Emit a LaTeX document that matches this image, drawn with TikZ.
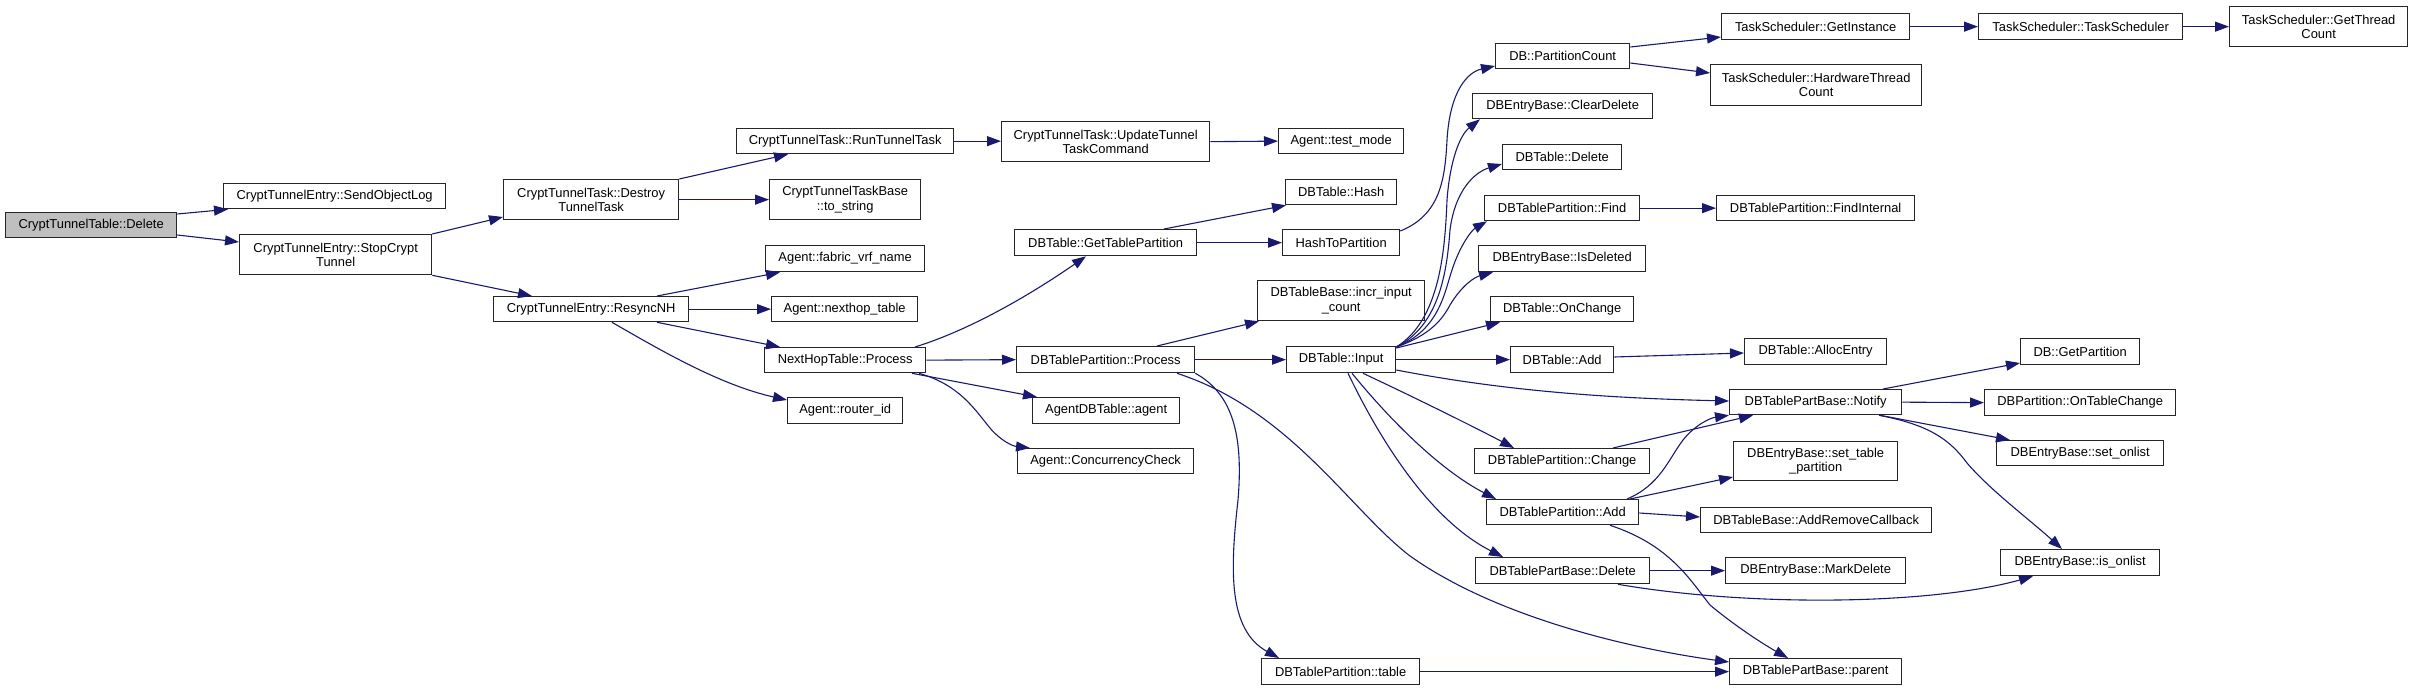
\documentclass[tikz,border=0pt]{standalone}
\usepackage{fontspec}
\setmainfont{Liberation Sans}
\usetikzlibrary{arrows.meta}
\definecolor{edgeblue}{HTML}{191970}
\definecolor{rootgrey}{HTML}{BFBFBF}
\tikzset{
  box/.style={draw=black!85, line width=1.3pt, fill=white, inner sep=0pt, anchor=north west, align=center,
    font=\fontsize{12.9}{14.3}\selectfont},
  e/.style={draw=edgeblue, line width=1.1pt, -{Triangle[length=14pt,width=10pt]}}
}
\newcommand\nd[7][]{\node[box,#1,minimum width=#5pt-#3pt,minimum height=#6pt-#4pt] (#2) at (#3,#4) {#7};}
\begin{document}
\begin{tikzpicture}[x=1pt,y=-1pt]
\useasboundingbox (0,0) rectangle (2412,690);
\nd[fill=rootgrey]{root}{5}{212}{176}{237}{CryptTunnelTable::Delete}
\nd{sendlog}{223}{183}{445}{208}{CryptTunnelEntry::SendObjectLog}
\nd{stopct}{239}{234}{431}{274}{CryptTunnelEntry::StopCrypt\\Tunnel}
\nd{destroy}{503}{179}{678}{219}{CryptTunnelTask::Destroy\\TunnelTask}
\nd{resync}{493}{296}{688}{321}{CryptTunnelEntry::ResyncNH}
\nd{runtask}{736}{128}{953}{153}{CryptTunnelTask::RunTunnelTask}
\nd{tostring}{769}{179}{920}{219}{CryptTunnelTaskBase\\::to\_string}
\nd{fabric}{765}{245}{924}{271}{Agent::fabric\_vrf\_name}
\nd{nhtable}{771}{296}{917}{321}{Agent::nexthop\_table}
\nd{nhproc}{764}{347}{925}{372}{NextHopTable::Process}
\nd{routerid}{787}{397}{902}{423}{Agent::router\_id}
\nd{update}{1001}{121}{1209}{161}{CryptTunnelTask::UpdateTunnel\\TaskCommand}
\nd{testmode}{1278}{128}{1403}{153}{Agent::test\_mode}
\nd{gettp}{1014}{229}{1196}{255}{DBTable::GetTablePartition}
\nd{dbproc}{1016}{346}{1194}{372}{DBTablePartition::Process}
\nd{agent}{1032}{397}{1179}{423}{AgentDBTable::agent}
\nd{concur}{1017}{448}{1193}{473}{Agent::ConcurrencyCheck}
\nd{hash}{1285}{179}{1396}{204}{DBTable::Hash}
\nd{htp}{1282}{229}{1399}{255}{HashToPartition}
\nd{incr}{1257}{280}{1424}{320}{DBTableBase::incr\_input\\\_count}
\nd{input}{1286}{346}{1395}{372}{DBTable::Input}
\nd{ptable}{1261}{658}{1419}{684}{DBTablePartition::table}
\nd{pcount}{1495}{43}{1629}{68}{DB::PartitionCount}
\nd{cleardel}{1472}{93}{1652}{118}{DBEntryBase::ClearDelete}
\nd{tdelete}{1502}{144}{1621}{169}{DBTable::Delete}
\nd{find}{1484}{195}{1639}{220}{DBTablePartition::Find}
\nd{isdel}{1478}{245}{1645}{271}{DBEntryBase::IsDeleted}
\nd{onchange}{1490}{296}{1633}{321}{DBTable::OnChange}
\nd{tadd}{1510}{346}{1613}{372}{DBTable::Add}
\nd{change}{1474}{448}{1649}{473}{DBTablePartition::Change}
\nd{padd}{1486}{499}{1638}{524}{DBTablePartition::Add}
\nd{pbdel}{1475}{557}{1649}{583}{DBTablePartBase::Delete}
\nd{getinst}{1721}{13}{1909}{39}{TaskScheduler::GetInstance}
\nd{hwtc}{1710}{64}{1921}{105}{TaskScheduler::HardwareThread\\Count}
\nd{findint}{1716}{195}{1914}{220}{DBTablePartition::FindInternal}
\nd{alloc}{1744}{338}{1886}{364}{DBTable::AllocEntry}
\nd{notify}{1729}{389}{1901}{414}{DBTablePartBase::Notify}
\nd{settp}{1733}{441}{1897}{480}{DBEntryBase::set\_table\\\_partition}
\nd{addrm}{1700}{507}{1931}{532}{DBTableBase::AddRemoveCallback}
\nd{mark}{1725}{557}{1905}{583}{DBEntryBase::MarkDelete}
\nd{parent}{1729}{658}{1901}{684}{DBTablePartBase::parent}
\nd{tsched}{1978}{13}{2182}{39}{TaskScheduler::TaskScheduler}
\nd{gtc}{2229}{6}{2407}{46}{TaskScheduler::GetThread\\Count}
\nd{getpart}{2020}{338}{2139}{364}{DB::GetPartition}
\nd{ontc}{1984}{389}{2175}{415}{DBPartition::OnTableChange}
\nd{setonl}{1996}{440}{2163}{465}{DBEntryBase::set\_onlist}
\nd{isonl}{2000}{549}{2159}{575}{DBEntryBase::is\_onlist}

\draw[e] ([yshift=-2pt]root.north east) -- ([xshift=5pt]sendlog.south west);
\draw[e] ([yshift=-23pt]root.north east) -- ([yshift=-8pt]stopct.north west);
\draw[e] (stopct.north east) -- ([yshift=-38pt]destroy.north west);
\draw[e] (stopct.south east) -- ([xshift=39pt]resync.north west);
\draw[e] (destroy.north east) -- ([xshift=52pt]runtask.south west);
\draw[e] (destroy.east) -- (tostring.west);
\draw[e] (runtask.east) -- (runtask.east -| update.west);
\draw[e] (update.east) -- (testmode.west);
\draw[e] ([xshift=164pt]resync.north west) -- ([xshift=15pt]fabric.south west);
\draw[e] (resync.east) -- (nhtable.west);
\draw[e] ([xshift=164pt]resync.south west) -- ([xshift=16pt]nhproc.north west);
\draw[e] ([xshift=119pt]resync.south west) .. controls (660,350) and (720,385) .. ([yshift=-3pt]routerid.north west);
\draw[e] ([xshift=151pt]nhproc.north west) .. controls (970,330) and (1030,295) .. ([xshift=72pt]gettp.south west);
\draw[e] (nhproc.east) -- (dbproc.west);
\draw[e] ([xshift=148pt]nhproc.south west) -- ([xshift=5pt]agent.north west);
\draw[e] ([xshift=155pt]nhproc.south west) .. controls (960,385) and (975,410) .. (990,428) .. controls (1000,440) and (1012,446) .. ([xshift=13pt]concur.north west);
\draw[e] (dbproc.east) -- (input.west);
\draw[e] ([xshift=141pt]dbproc.north west) -- ([xshift=2pt]incr.south west);
\draw[e] (dbproc.south east) .. controls (1235,395) and (1243,440) .. (1238,500) .. controls (1230,570) and (1228,630) .. ([xshift=18pt]ptable.north west);
\draw[e] ([xshift=161pt]dbproc.south west) .. controls (1290,410) and (1350,510) .. (1410,556) .. controls (1500,620) and (1640,650) .. ([yshift=-4pt]parent.north west);
\draw[e] ([yshift=-1pt]input.north east) .. controls (1440,320) and (1445,250) .. (1447,200) .. controls (1450,160) and (1460,135) .. ([xshift=8pt]cleardel.south west);
\draw[e] ([yshift=-1pt]input.north east) .. controls (1440,325) and (1447,270) .. (1450,230) .. controls (1455,190) and (1475,172) .. ([yshift=-20pt]tdelete.north west);
\draw[e] ([yshift=-1pt]input.north east) .. controls (1440,330) and (1445,290) .. (1452,270) .. controls (1460,245) and (1472,230) .. ([xshift=3pt]find.south west);
\draw[e] ([yshift=-1pt]input.north east) .. controls (1430,335) and (1442,320) .. (1450,305) .. controls (1462,285) and (1475,277) .. ([xshift=15pt]isdel.south west);
\draw[e] ([yshift=-2pt]input.north east) -- ([xshift=10pt]onchange.south west);
\draw[e] (input.east) -- (tadd.west);
\draw[e] ([yshift=-24pt]input.north east) .. controls (1500,390) and (1600,398) .. ([yshift=-12pt]notify.north west);
\draw[e] ([xshift=77pt]input.south west) .. controls (1420,400) and (1480,430) .. ([xshift=40pt]change.north west);
\draw[e] ([xshift=66pt]input.south west) .. controls (1390,420) and (1440,470) .. ([xshift=10pt]padd.north west);
\draw[e] ([xshift=62pt]input.south west) .. controls (1380,440) and (1430,520) .. ([xshift=28pt]pbdel.north west);
\draw[e] ([yshift=-2pt]htp.north east) .. controls (1440,215) and (1445,180) .. (1447,140) .. controls (1450,90) and (1468,72) .. ([yshift=-23pt]pcount.north west);
\draw[e] ([xshift=150pt]gettp.north west) -- ([xshift=1pt]hash.south west);
\draw[e] (gettp.east) -- (htp.west);
\draw[e] ([yshift=-4pt]pcount.north east) -- ([yshift=-24pt]getinst.north west);
\draw[e] ([yshift=-20pt]pcount.north east) -- ([yshift=-9pt]hwtc.north west);
\draw[e] (getinst.east) -- (tsched.west);
\draw[e] (tsched.east) -- (tsched.east -| gtc.west);
\draw[e] (find.east) -- (findint.west);
\draw[e] ([yshift=-11pt]tadd.north east) -- ([yshift=-15pt]alloc.north west);
\draw[e] ([xshift=154pt]notify.north west) -- ([yshift=-25pt]getpart.north west);
\draw[e] (notify.east) -- (ontc.west);
\draw[e] ([xshift=151pt]notify.south west) -- ([xshift=14pt]setonl.north west);
\draw[e] ([xshift=150pt]notify.south west) .. controls (1930,425) and (1950,440) .. (1967,463) .. controls (1990,490) and (2030,520) .. ([xshift=62pt]isonl.north west);
\draw[e] ([xshift=139pt]change.north west) -- ([xshift=24pt]notify.south west);
\draw[e] ([xshift=141pt]padd.north west) .. controls (1660,485) and (1668,460) .. (1683,440) .. controls (1695,425) and (1710,418) .. (notify.south west);
\draw[e] ([xshift=144pt]padd.north west) -- ([yshift=-36pt]settp.north west);
\draw[e] ([yshift=-14pt]padd.north east) -- ([yshift=-10pt]addrm.north west);
\draw[e] ([xshift=124pt]padd.south west) .. controls (1670,545) and (1690,580) .. (1710,605) .. controls (1740,630) and (1770,648) .. ([xshift=59pt]parent.north west);
\draw[e] (pbdel.east) -- (mark.west);
\draw[e] ([xshift=143pt]pbdel.south west) .. controls (1750,607) and (1930,605) .. ([xshift=33pt]isonl.south west);
\draw[e] (ptable.east) -- (parent.west);
\end{tikzpicture}
\end{document}
